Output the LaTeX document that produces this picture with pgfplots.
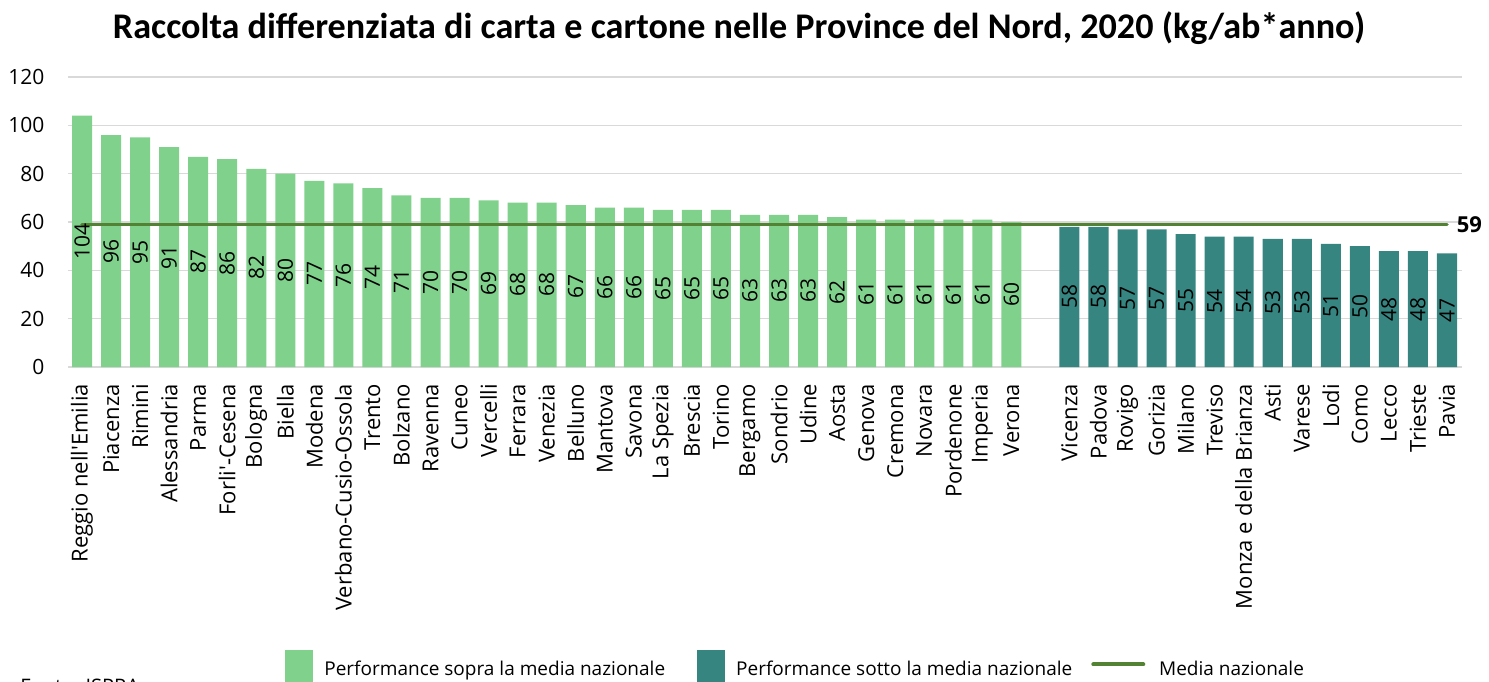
\documentclass[border=0pt]{standalone}
\usepackage{fontspec}
\setmainfont{Open Sans}
\newfontfamily\titlefont{Carlito}
\usepackage{graphicx}
\usepackage{pgfplots}
\usepackage{pgfplotstable}
\pgfplotsset{compat=1.18}
\definecolor{cgreen}{RGB}{127,209,139}
\definecolor{cteal}{RGB}{54,133,128}
\definecolor{cline}{RGB}{84,130,53}
\definecolor{cgrid}{RGB}{217,217,217}

\pgfplotstableread{
x y
0 104
1 96
2 95
3 91
4 87
5 86
6 82
7 80
8 77
9 76
10 74
11 71
12 70
13 70
14 69
15 68
16 68
17 67
18 66
19 66
20 65
21 65
22 65
23 63
24 63
25 63
26 62
27 61
28 61
29 61
30 61
31 61
32 60
}\sopra

\pgfplotstableread{
x y
34 58
35 58
36 57
37 57
38 55
39 54
40 54
41 53
42 53
43 51
44 50
45 48
46 48
47 47
}\sotto

\begin{document}
\begin{tikzpicture}
\useasboundingbox (0,0) rectangle (744.5pt,-340.5pt);
\node[anchor=base, inner sep=0pt] at (369.5pt,-19pt)
  {\resizebox{626pt}{!}{\titlefont\bfseries Raccolta differenziata di carta e cartone nelle Province del Nord, 2020 (kg/ab*anno)}};
\begin{axis}[
  at={(33.75pt,-183.5pt)}, anchor=south west,
  scale only axis, width=697pt, height=145pt,
  xmin=-0.5, xmax=47.5, ymin=0, ymax=120,
  ytick={0,20,40,60,80,100,120},
  xtick={0,1,2,3,4,5,6,7,8,9,10,11,12,13,14,15,16,17,18,19,20,21,22,23,24,25,26,27,28,29,30,31,32,34,35,36,37,38,39,40,41,42,43,44,45,46,47},
  xticklabels={Reggio nell\textquotesingle Emilia,Piacenza,Rimini,Alessandria,Parma,Forli\textquotesingle-Cesena,Bologna,Biella,Modena,Verbano-Cusio-Ossola,Trento,Bolzano,Ravenna,Cuneo,Vercelli,Ferrara,Venezia,Belluno,Mantova,Savona,La Spezia,Brescia,Torino,Bergamo,Sondrio,Udine,Aosta,Genova,Cremona,Novara,Pordenone,Imperia,Verona,Vicenza,Padova,Rovigo,Gorizia,Milano,Treviso,Monza e della Brianza,Asti,Varese,Lodi,Como,Lecco,Trieste,Pavia},
  axis line style={draw=none},
  major tick length=0pt,
  ymajorgrids, grid style={cgrid, line width=0.8pt},
  /pgf/number format/assume math mode=true,
  yticklabel style={font=\fontsize{10.5}{12}\selectfont, xshift=-8pt},
  xticklabel style={font=\fontsize{11}{13}\selectfont, yshift=-5pt, rotate=90, anchor=east},
  clip=false,
  legend columns=3,
  legend cell align=left,
  legend style={draw=none, fill=none, at={(0.156,-0.976)}, anchor=north west,
    inner sep=0pt, font=\fontsize{9.5}{11}\selectfont,
    /tikz/every even column/.append style={column sep=7.5pt}},
]
\addplot[ybar, bar width=0.69, fill=cgreen, draw=none,
  legend image code/.code={\fill[cgreen] (0pt,-6.5pt) rectangle (14pt,9.5pt); \path (17.5pt,0pt);}]
  table[x=x, y=y] {\sopra};
\addlegendentry{Performance sopra la media nazionale}
\addplot[ybar, bar width=0.69, fill=cteal, draw=none,
  legend image code/.code={\path (-6.5pt,0pt); \fill[cteal] (0pt,-6.5pt) rectangle (14pt,9.5pt); \path (17.5pt,0pt);}]
  table[x=x, y=y] {\sotto};
\addlegendentry{Performance sotto la media nazionale}
\addplot[cline, line width=1.8pt, line cap=round, mark=none,
  legend image code/.code={\draw[cline, line width=2pt] (0pt,2.5pt) -- (25pt,2.5pt); \path (30pt,0pt);}]
  coordinates {(0,59) (47,59)}
  node[pos=1, anchor=west, inner sep=0pt, xshift=4pt, text=black, font=\fontsize{11}{13}\selectfont\bfseries] {59};
\addlegendentry{Media nazionale}
\addplot[draw=none, mark=none, forget plot, nodes near coords, point meta=explicit,
  nodes near coords style={rotate=90, anchor=center, text=black, font=\fontsize{10.5}{12}\selectfont}]
  table[x=x, y expr=\thisrow{y}/2, meta=y] {\sopra};
\addplot[draw=none, mark=none, forget plot, nodes near coords, point meta=explicit,
  nodes near coords style={rotate=90, anchor=center, text=black, font=\fontsize{10.5}{12}\selectfont}]
  table[x=x, y expr=\thisrow{y}/2, meta=y] {\sotto};
\end{axis}
\node[anchor=base west, inner sep=0pt, font=\fontsize{10}{12}\selectfont] at (10pt,-346.5pt) {Fonte: ISPRA};
\end{tikzpicture}
\end{document}
